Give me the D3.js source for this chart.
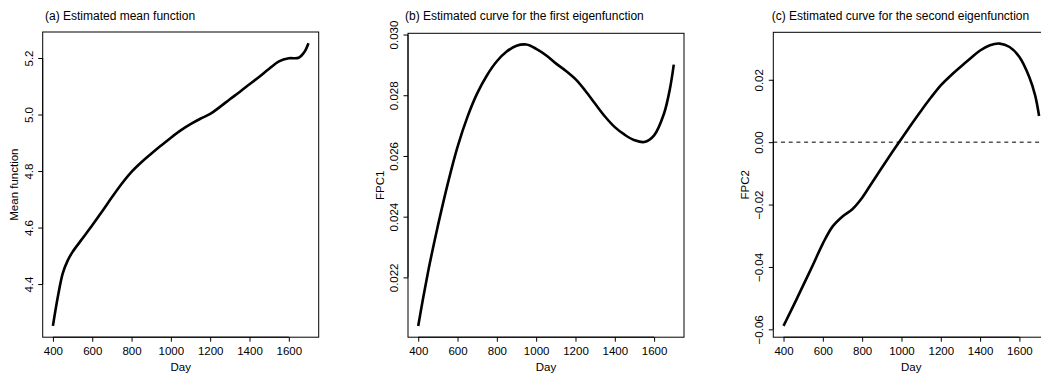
<!DOCTYPE html>
<html>
<head>
<meta charset="utf-8">
<script src="https://cdn.jsdelivr.net/npm/d3@7"></script>
<style>
    body { margin: 0; background: #fff; }
    svg { display: block; font-family: "Liberation Sans", Arial, sans-serif; }
    .tick-label { font-size: 11.5px; fill: #000; }
    .axis-title { font-size: 11.5px; fill: #000; }
    .panel-title { font-size: 12px; fill: #000; }
</style>
</head>
<body>
<svg id="chart" width="1041" height="375"></svg>
<script>
const days = [400, 425, 450, 475, 500, 550, 600, 650, 700, 750, 800, 850, 900, 950, 1000, 1050, 1100, 1150, 1200, 1250, 1300, 1350, 1400, 1450, 1500, 1550, 1600, 1650, 1680, 1700];

const meanValues = [4.252, 4.355, 4.438, 4.483, 4.514, 4.561, 4.608, 4.657, 4.707, 4.755, 4.797, 4.831, 4.861, 4.890, 4.918, 4.944, 4.966, 4.985, 5.002, 5.027, 5.054, 5.080, 5.107, 5.134, 5.162, 5.188, 5.199, 5.201, 5.222, 5.252];
const fpc1Values = [0.0204, 0.02132, 0.02218, 0.02296, 0.0237, 0.02508, 0.0263, 0.02728, 0.02806, 0.02866, 0.02912, 0.02944, 0.02963, 0.02967, 0.02953, 0.02932, 0.02905, 0.02881, 0.02853, 0.02815, 0.02772, 0.0273, 0.02695, 0.0267, 0.02652, 0.02646, 0.02668, 0.02739, 0.0282, 0.02901];
const fpc2Values = [-0.0589, -0.0557, -0.0525, -0.0492, -0.0459, -0.0393, -0.0325, -0.0270, -0.0238, -0.0215, -0.0178, -0.0130, -0.0082, -0.0035, 0.0011, 0.0057, 0.0101, 0.0143, 0.0182, 0.0213, 0.0241, 0.0268, 0.0294, 0.0311, 0.0316, 0.0305, 0.0273, 0.0209, 0.0150, 0.0084];

const xTicks = [400, 600, 800, 1000, 1200, 1400, 1600];
const meanTicks = [4.4, 4.6, 4.8, 5.0, 5.2];
const fpc1Ticks = [0.022, 0.024, 0.026, 0.028, 0.030];
const fpc2Ticks = [-0.06, -0.04, -0.02, 0.00, 0.02];

const panels = [
    { title: '(a) Estimated mean function', ylab: 'Mean function', values: meanValues, ticks: meanTicks,
      fmt: d3.format('.1f'), left: 42.7, top: 32, titleX: 45 },
    { title: '(b) Estimated curve for the first eigenfunction', ylab: 'FPC1', values: fpc1Values, ticks: fpc1Ticks,
      fmt: d3.format('.3f'), left: 408, top: 33.3, titleX: 405 },
    { title: '(c) Estimated curve for the second eigenfunction', ylab: 'FPC2', values: fpc2Values, ticks: fpc2Ticks,
      fmt: d3.format('.2f'), left: 773.3, top: 32.3, titleX: 771.7, zeroLine: true }
];

const svg = d3.select('#chart');
const boxWidth = 276;
const bottom = 337.2;

// R style range: data extent padded by 4% each side
function padded (ext) {
    const pad = (ext[1] - ext[0]) * 0.04;
    return [ext[0] - pad, ext[1] + pad];
}

panels.forEach(function (p) {
    const g = svg.append('g');
    const x = d3.scaleLinear()
        .domain(padded(d3.extent(days)))
        .range([p.left, p.left + boxWidth]);
    const y = d3.scaleLinear()
        .domain(padded(d3.extent(p.values)))
        .range([bottom, p.top]);

    const xAxis = d3.axisBottom(x)
        .tickValues(xTicks)
        .tickSize(4.5)
        .tickSizeOuter(0)
        .tickFormat(d3.format('d'));
    const xg = g.append('g')
        .attr('transform', 'translate(0,' + bottom + ')')
        .call(xAxis);
    xg.select('.domain')
        .attr('d', 'M' + x(xTicks[0]) + ',0H' + x(xTicks[xTicks.length - 1]));
    xg.selectAll('.tick text')
        .attr('class', 'tick-label')
        .attr('y', 18)
        .attr('dy', null)
        .attr('font-family', null)
        .attr('font-size', null);

    const yAxis = d3.axisLeft(y)
        .tickValues(p.ticks)
        .tickSize(4.5)
        .tickSizeOuter(0)
        .tickFormat(function (d) { return p.fmt(d).replace('-', '\u2212'); });
    const yg = g.append('g')
        .attr('transform', 'translate(' + p.left + ',0)')
        .call(yAxis);
    yg.select('.domain')
        .attr('d', 'M0,' + y(p.ticks[0]) + 'V' + y(p.ticks[p.ticks.length - 1]));
    yg.selectAll('.tick text')
        .attr('class', 'tick-label')
        .attr('x', null)
        .attr('dy', null)
        .attr('font-family', null)
        .attr('font-size', null)
        .attr('text-anchor', 'middle')
        .attr('transform', 'translate(-10,0) rotate(-90)');

    g.selectAll('.domain, .tick line').attr('stroke', '#000').attr('stroke-width', 1);

    if (p.zeroLine) {
        g.append('line')
            .attr('x1', x.range()[0])
            .attr('x2', x.range()[1])
            .attr('y1', y(0))
            .attr('y2', y(0))
            .attr('stroke', '#000')
            .attr('stroke-width', 1)
            .attr('stroke-dasharray', '4,3.7');
    }

    const line = d3.line()
        .x(function (d, i) { return x(days[i]); })
        .y(function (d) { return y(d); })
        .curve(d3.curveCatmullRom.alpha(0.5));

    g.append('path')
        .datum(p.values)
        .attr('fill', 'none')
        .attr('stroke', '#000')
        .attr('stroke-width', 2.6)
        .attr('d', line);

    g.append('rect')
        .attr('x', p.left)
        .attr('y', p.top)
        .attr('width', boxWidth)
        .attr('height', bottom - p.top)
        .attr('fill', 'none')
        .attr('stroke', '#000')
        .attr('stroke-width', 1);

    g.append('text')
        .attr('class', 'panel-title')
        .attr('x', p.titleX)
        .attr('y', 20)
        .text(p.title);

    // R centres the x label on the plot region
    g.append('text')
        .attr('class', 'axis-title')
        .attr('text-anchor', 'middle')
        .attr('x', p.left + boxWidth / 2)
        .attr('y', 371)
        .text('Day');

    g.append('text')
        .attr('class', 'axis-title')
        .attr('text-anchor', 'middle')
        .attr('transform', 'translate(' + (p.left - 24.5) + ',' + ((p.top + bottom) / 2) + ') rotate(-90)')
        .text(p.ylab);
});
</script>
</body>
</html>
